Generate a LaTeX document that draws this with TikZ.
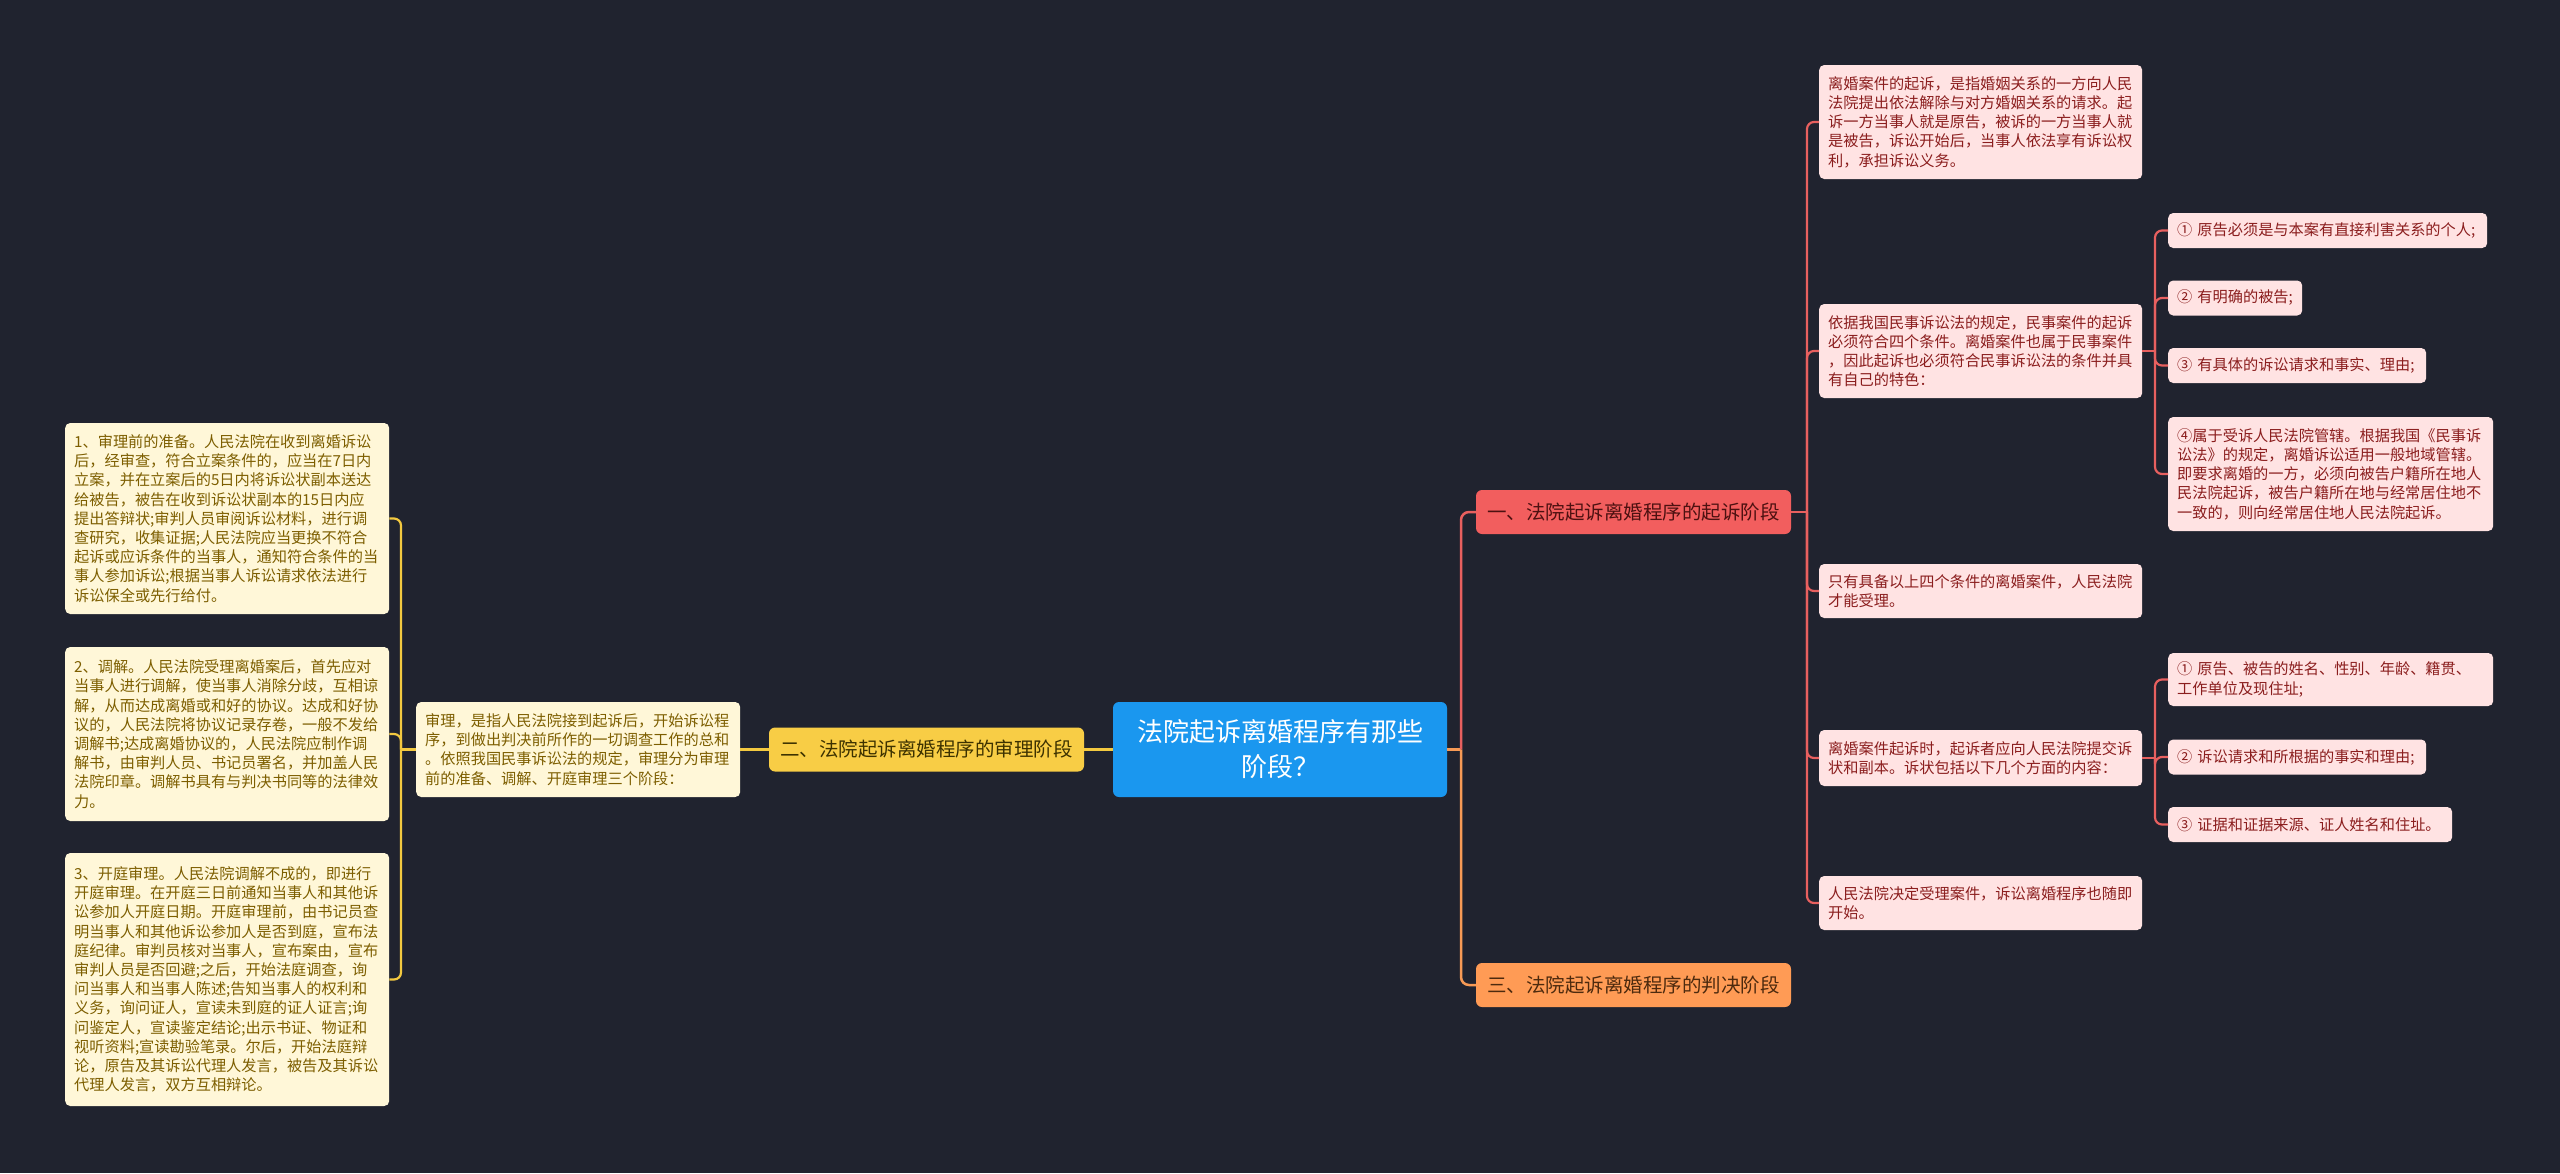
\documentclass[tikz,border=0pt]{standalone}
\usepackage{fontspec}
\setmainfont{Noto Sans CJK SC}
\definecolor{bg}{HTML}{20232F}
\definecolor{rootbg}{HTML}{1A97EF}
\definecolor{redbr}{HTML}{F25E5E}
\definecolor{orbr}{HTML}{FF9B55}
\definecolor{yebr}{HTML}{F8CD45}
\definecolor{redln}{HTML}{E8605F}
\definecolor{orln}{HTML}{F79A55}
\definecolor{yeln}{HTML}{F3C940}
\definecolor{rleafbg}{HTML}{FFE3E3}
\definecolor{rleaftx}{HTML}{8B1E1E}
\definecolor{yleafbg}{HTML}{FFF7D8}
\definecolor{yleaftx}{HTML}{7D5E00}
\definecolor{redbrtx}{HTML}{4D1111}
\definecolor{orbrtx}{HTML}{4D2A0E}
\definecolor{yebrtx}{HTML}{3D3200}
\tikzset{
  leafbase/.style={rounded corners=5pt, inner xsep=9pt, inner ysep=0pt, align=left,
    font=\fontsize{15.2}{19.2}\selectfont, anchor=west},
  rleaf/.style={leafbase, fill=rleafbg, text=rleaftx},
  yleaf/.style={leafbase, fill=yleafbg, text=yleaftx},
  branch/.style={rounded corners=6pt, font=\fontsize{19.5}{23}\selectfont, inner sep=0pt,
    minimum width=315pt, minimum height=44pt},
  redc/.style={draw=redln, line width=2.2pt, rounded corners=7pt},
  orc/.style={draw=orln, line width=2.5pt, rounded corners=8pt},
  yec/.style={draw=yeln, line width=2.2pt, rounded corners=7pt},
}
\begin{document}
\begin{tikzpicture}[x=1pt,y=-1pt]
\useasboundingbox (0,0) rectangle (2560,1173);
\fill[bg] (0,0) rectangle (2560,1173);

% root and branches
\node[rounded corners=6pt, fill=rootbg, text=white, font=\fontsize{26}{35}\selectfont,
  align=center, minimum width=334pt, minimum height=95pt, inner sep=0pt]
  (root) at (1280,749.5) {法院起诉离婚程序有那些\\阶段？};
\node[branch, fill=redbr, text=redbrtx] (b1) at (1633.5,512) {一、法院起诉离婚程序的起诉阶段};
\node[branch, fill=orbr, text=orbrtx] (b3) at (1633.5,985) {三、法院起诉离婚程序的判决阶段};
\node[branch, fill=yebr, text=yebrtx] (b2) at (926.5,749.5) {二、法院起诉离婚程序的审理阶段};

% right subtree of branch 1
\node[rleaf, text width=305pt, minimum height=114pt] (A) at (1819,122) {离婚案件的起诉，是指婚姻关系的一方向人民\\法院提出依法解除与对方婚姻关系的请求。起\\诉一方当事人就是原告，被诉的一方当事人就\\是被告，诉讼开始后，当事人依法享有诉讼权\\利，承担诉讼义务。};
\node[rleaf, text width=305pt, minimum height=94pt] (B) at (1819,351) {依据我国民事诉讼法的规定，民事案件的起诉\\必须符合四个条件。离婚案件也属于民事案件\\，因此起诉也必须符合民事诉讼法的条件并具\\有自己的特色：};
\node[rleaf, text width=305pt, minimum height=54pt] (C) at (1819,591) {只有具备以上四个条件的离婚案件，人民法院\\才能受理。};
\node[rleaf, text width=305pt, minimum height=56pt] (D) at (1819,758) {离婚案件起诉时，起诉者应向人民法院提交诉\\状和副本。诉状包括以下几个方面的内容：};
\node[rleaf, text width=305pt, minimum height=54pt] (E) at (1819,903) {人民法院决定受理案件，诉讼离婚程序也随即\\开始。};

\node[rleaf, text width=301pt, minimum height=35pt] (B1) at (2168,230.5) {① 原告必须是与本案有直接利害关系的个人;};
\node[rleaf, text width=116pt, minimum height=35pt] (B2) at (2168,298) {② 有明确的被告;};
\node[rleaf, text width=240pt, minimum height=35pt] (B3) at (2168,365.5) {③ 有具体的诉讼请求和事实、理由;};
\node[rleaf, text width=307pt, minimum height=114pt] (B4) at (2168,474) {④属于受诉人民法院管辖。根据我国《民事诉\\讼法》的规定，离婚诉讼适用一般地域管辖。\\即要求离婚的一方，必须向被告户籍所在地人\\民法院起诉，被告户籍所在地与经常居住地不\\一致的，则向经常居住地人民法院起诉。};
\node[rleaf, text width=307pt, minimum height=53pt] (D1) at (2168,679.5) {① 原告、被告的姓名、性别、年龄、籍贯、\\工作单位及现住址;};
\node[rleaf, text width=240pt, minimum height=35pt] (D2) at (2168,757) {② 诉讼请求和所根据的事实和理由;};
\node[rleaf, text width=266pt, minimum height=35pt] (D3) at (2168,824.5) {③ 证据和证据来源、证人姓名和住址。};

% left subtree of branch 2
\node[yleaf, text width=306pt, minimum height=95pt] (L) at (416,749.5) {审理，是指人民法院接到起诉后，开始诉讼程\\序，到做出判决前所作的一切调查工作的总和\\。依照我国民事诉讼法的规定，审理分为审理\\前的准备、调解、开庭审理三个阶段：};
\node[yleaf, text width=306pt, minimum height=191pt] (L1) at (65,518.5) {1、审理前的准备。人民法院在收到离婚诉讼\\后，经审查，符合立案条件的，应当在7日内\\立案，并在立案后的5日内将诉讼状副本送达\\给被告，被告在收到诉讼状副本的15日内应\\提出答辩状;审判人员审阅诉讼材料，进行调\\查研究，收集证据;人民法院应当更换不符合\\起诉或应诉条件的当事人，通知符合条件的当\\事人参加诉讼;根据当事人诉讼请求依法进行\\诉讼保全或先行给付。};
\node[yleaf, text width=306pt, minimum height=174pt] (L2) at (65,734) {2、调解。人民法院受理离婚案后，首先应对\\当事人进行调解，使当事人消除分歧，互相谅\\解，从而达成离婚或和好的协议。达成和好协\\议的，人民法院将协议记录存卷，一般不发给\\调解书;达成离婚协议的，人民法院应制作调\\解书，由审判人员、书记员署名，并加盖人民\\法院印章。调解书具有与判决书同等的法律效\\力。};
\node[yleaf, text width=306pt, minimum height=253pt] (L3) at (65,979.5) {3、开庭审理。人民法院调解不成的，即进行\\开庭审理。在开庭三日前通知当事人和其他诉\\讼参加人开庭日期。开庭审理前，由书记员查\\明当事人和其他诉讼参加人是否到庭，宣布法\\庭纪律。审判员核对当事人，宣布案由，宣布\\审判人员是否回避;之后，开始法庭调查，询\\问当事人和当事人陈述;告知当事人的权利和\\义务，询问证人，宣读未到庭的证人证言;询\\问鉴定人，宣读鉴定结论;出示书证、物证和\\视听资料;宣读勘验笔录。尔后，开始法庭辩\\论，原告及其诉讼代理人发言，被告及其诉讼\\代理人发言，双方互相辩论。};

% junctions
\coordinate (j0) at (1461,749.5);
\coordinate (jb1) at (1807,512);
\coordinate (jB) at (2155,351);
\coordinate (jD) at (2155,758);
\coordinate (jL) at (401,749.5);

% connectors
\begin{scope}[on background layer/.style={}]
\draw[orc] (root.east) -- (j0);
\draw[redc, line width=2.5pt, rounded corners=8pt] (j0) |- (b1.west);
\draw[orc] (j0) |- (b3.west);

\draw[redc] (b1.east) -- (jb1);
\draw[redc] (jb1) |- (A.west);
\draw[redc] (jb1) |- (B.west);
\draw[redc] (jb1) |- (C.west);
\draw[redc] (jb1) |- (D.west);
\draw[redc] (jb1) |- (E.west);

\draw[redc] (B.east) -- (jB);
\draw[redc] (jB) |- (B1.west);
\draw[redc] (jB) |- (B2.west);
\draw[redc] (jB) |- (B3.west);
\draw[redc] (jB) |- (B4.west);

\draw[redc] (D.east) -- (jD);
\draw[redc] (jD) |- (D1.west);
\draw[redc] (jD) |- (D2.west);
\draw[redc] (jD) |- (D3.west);

\draw[yec, line width=2.5pt] (root.west) -- (b2.east);
\draw[yec] (b2.west) -- (L.east);
\draw[yec] (L.west) -- (jL);
\draw[yec] (jL) |- (L1.east);
\draw[yec] (jL) |- (L2.east);
\draw[yec] (jL) |- (L3.east);
\end{scope}
\end{tikzpicture}
\end{document}
